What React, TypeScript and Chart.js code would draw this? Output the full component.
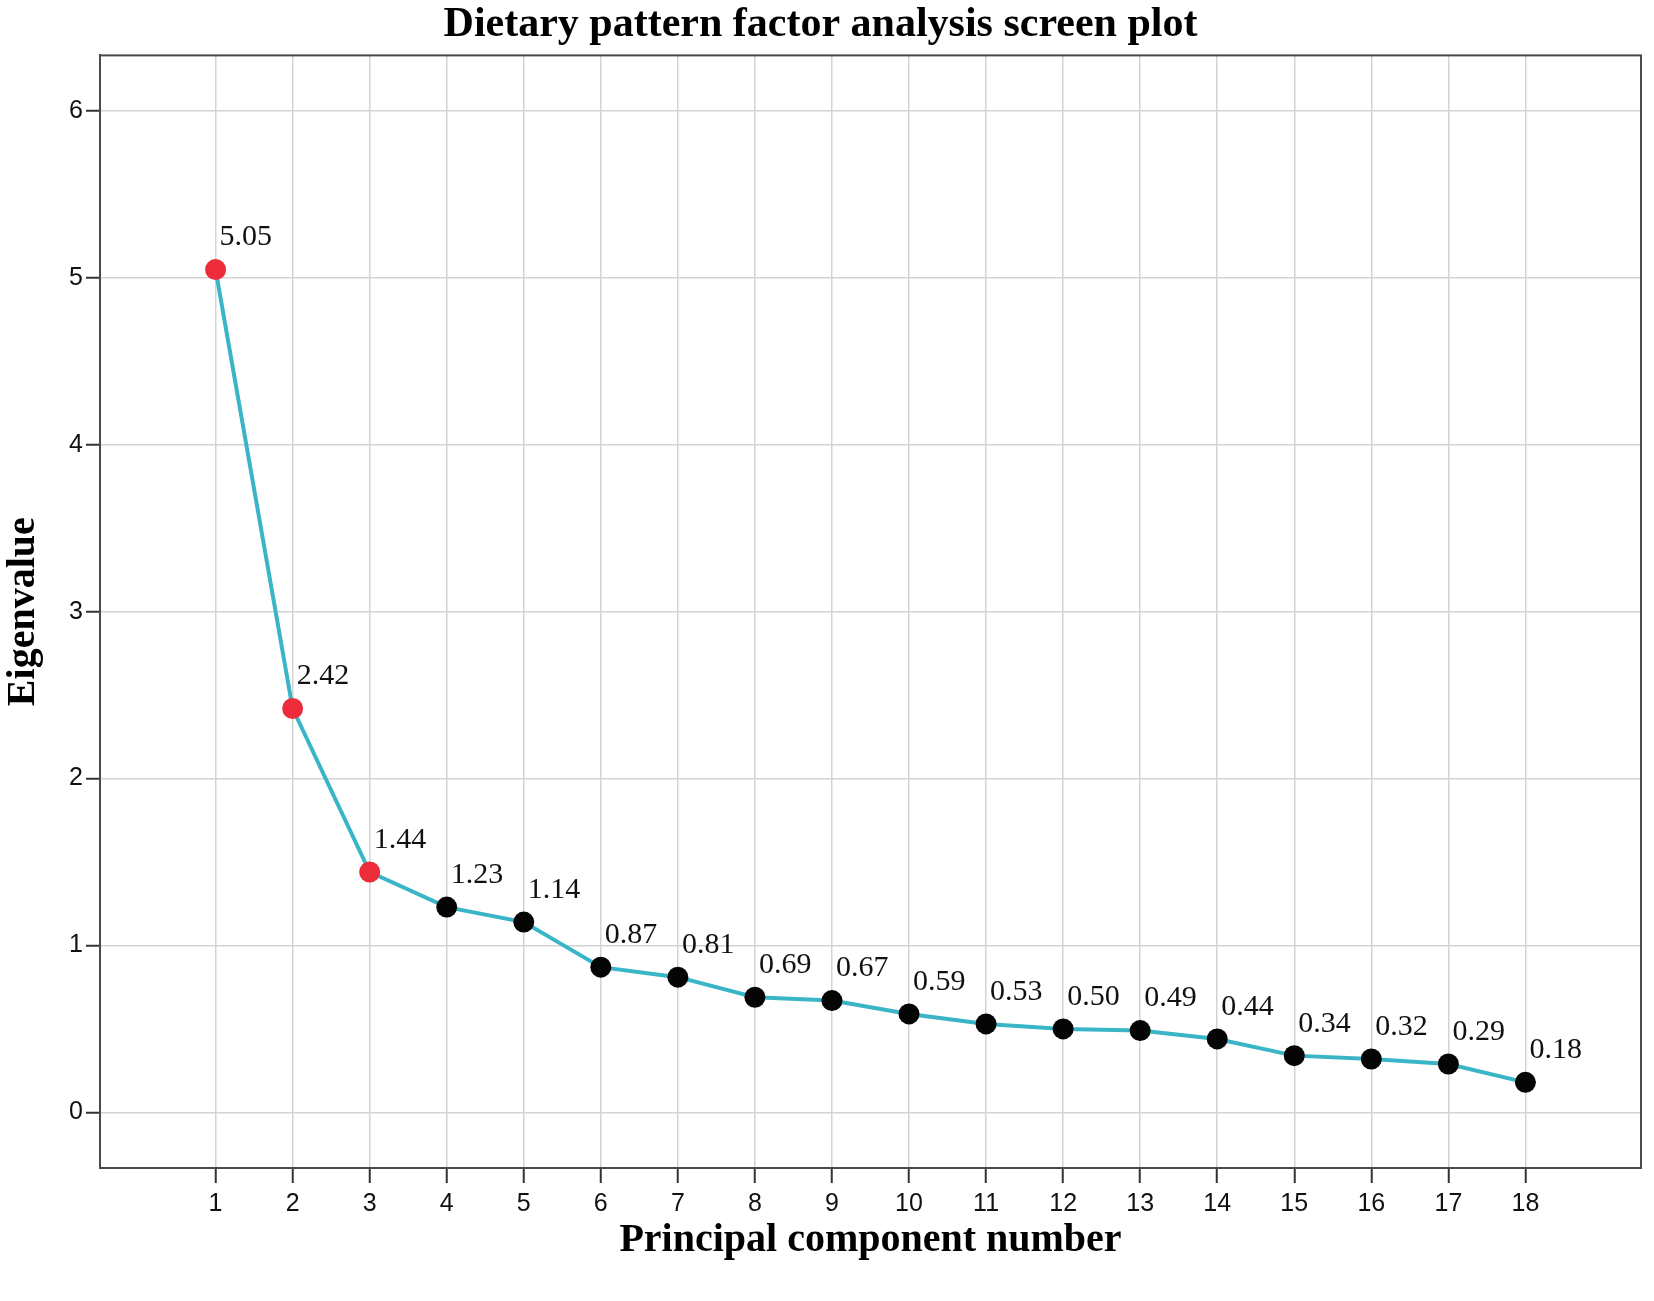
import React, { useEffect, useRef } from "react";
import { Chart, registerables } from "chart.js";

Chart.register(...registerables);

const components: number[] = [1, 2, 3, 4, 5, 6, 7, 8, 9, 10, 11, 12, 13, 14, 15, 16, 17, 18];
const eigenvalues: number[] = [5.05, 2.42, 1.44, 1.23, 1.14, 0.87, 0.81, 0.69, 0.67, 0.59, 0.53, 0.5, 0.49, 0.44, 0.34, 0.32, 0.29, 0.18];
const yTicks: number[] = [0, 1, 2, 3, 4, 5, 6];
const retainedCount = 3;

const TITLE = "Dietary pattern factor analysis screen plot";
const X_TITLE = "Principal component number";
const Y_TITLE = "Eigenvalue";

const RED = "#ec2b3b";
const BLACK = "#050505";
const LINE = "#3ab5c7";

const boxPlugin = {
  id: "boxPlugin",
  afterDraw(chart: any) {
    const { ctx, chartArea } = chart;
    ctx.save();
    ctx.strokeStyle = "#4a4a4a";
    ctx.lineWidth = 2;
    ctx.strokeRect(chartArea.left, chartArea.top, chartArea.right - chartArea.left, chartArea.bottom - chartArea.top);
    ctx.restore();
  },
};

const labelPlugin = {
  id: "labelPlugin",
  afterDatasetsDraw(chart: any) {
    const { ctx } = chart;
    const meta = chart.getDatasetMeta(0);
    ctx.save();
    ctx.font = "30px 'Liberation Serif'";
    ctx.fillStyle = "#111";
    ctx.textAlign = "left";
    ctx.textBaseline = "middle";
    meta.data.forEach((pt: any, i: number) => {
      ctx.fillText(eigenvalues[i].toFixed(2), pt.x + 4, pt.y - 32);
    });
    ctx.restore();
  },
};

export default function App() {
  const ref = useRef<HTMLCanvasElement | null>(null);
  useEffect(() => {
    if (!ref.current) return;
    const chart = new Chart(ref.current, {
      type: "line",
      data: {
        datasets: [
          {
            data: components.map((c, i) => ({ x: c, y: eigenvalues[i] })),
            borderColor: LINE,
            borderWidth: 4,
            pointRadius: 10.5,
            pointHoverRadius: 10.5,
            pointBorderWidth: 0,
            pointBackgroundColor: (ctx: any) => (ctx.dataIndex < retainedCount ? RED : BLACK),
            pointBorderColor: (ctx: any) => (ctx.dataIndex < retainedCount ? RED : BLACK),
            tension: 0,
          },
        ],
      },
      options: {
        animation: false,
        responsive: true,
        maintainAspectRatio: false,
        layout: { padding: { left: 0, right: 13, top: 0, bottom: 0 } },
        plugins: {
          legend: { display: false },
          tooltip: { enabled: false },
          title: {
            display: true,
            text: TITLE,
            color: "#000",
            font: { family: "'Liberation Serif'", size: 42, weight: "bold" },
            padding: { top: 0, bottom: 5 },
          },
        },
        scales: {
          x: {
            type: "linear",
            min: -0.5,
            max: 19.5,
            afterBuildTicks: (scale: any) => {
              scale.ticks = components.map((v) => ({ value: v }));
            },
            afterFit: (scale: any) => {
              scale.height = 133;
            },
            grid: {
              color: "#d3d3d3",
              lineWidth: 1.5,
              tickLength: 15,
              tickColor: "#333",
              tickWidth: 2,
            },
            border: { display: true, color: "#4a4a4a", width: 2 },
            ticks: {
              color: "#111",
              font: { family: "'Liberation Sans'", size: 25 },
              padding: 6,
              maxRotation: 0,
              autoSkip: false,
              callback: (v: any) => String(v),
            },
            title: {
              display: true,
              text: X_TITLE,
              color: "#000",
              font: { family: "'Liberation Serif'", size: 40, weight: "bold" },
              padding: { top: 0, bottom: 36 },
            },
          },
          y: {
            type: "linear",
            min: -1 / 3,
            max: 6 + 1 / 3,
            afterBuildTicks: (scale: any) => {
              scale.ticks = yTicks.map((v) => ({ value: v }));
            },
            afterFit: (scale: any) => {
              scale.width = 100;
            },
            grid: {
              color: "#d3d3d3",
              lineWidth: 1.5,
              tickLength: 14,
              tickColor: "#333",
              tickWidth: 2,
            },
            border: { display: true, color: "#4a4a4a", width: 2 },
            ticks: {
              color: "#111",
              font: { family: "'Liberation Sans'", size: 25 },
              padding: 3,
              callback: (v: any) => String(v),
            },
            title: {
              display: true,
              text: Y_TITLE,
              color: "#000",
              font: { family: "'Liberation Serif'", size: 40, weight: "bold" },
              padding: { top: 0, bottom: 0 },
            },
          },
        },
      },
      plugins: [boxPlugin, labelPlugin],
    } as any);
    return () => chart.destroy();
  }, []);
  return (
    <div style={{ position: "fixed", left: 0, top: 0, width: 1654, height: 1301, background: "#fff" }}>
      <canvas ref={ref} />
    </div>
  );
}
